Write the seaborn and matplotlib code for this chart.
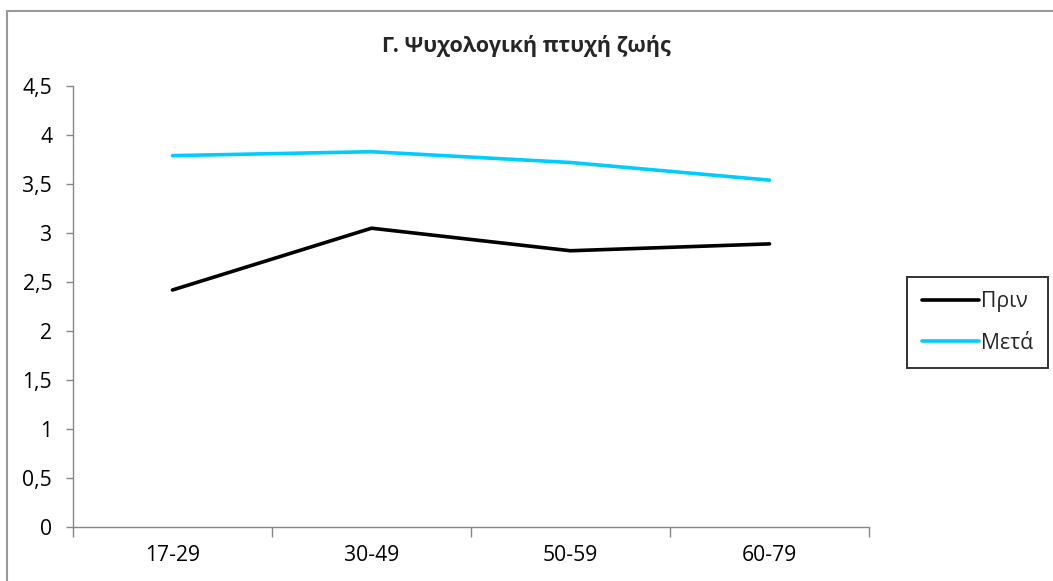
import matplotlib
matplotlib.use("Agg")
import matplotlib.pyplot as plt
from matplotlib.patches import Rectangle
from matplotlib.ticker import FixedLocator
import pandas as pd
import seaborn as sns

# Mean scores per age group, before and after
age_groups = ["17-29", "30-49", "50-59", "60-79"]
before = [2.42, 3.05, 2.82, 2.89]
after = [3.79, 3.83, 3.72, 3.54]
series_names = ["Πριν", "Μετά"]
y_ticks = [0, 0.5, 1, 1.5, 2, 2.5, 3, 3.5, 4, 4.5]
y_tick_labels = ["0", "0,5", "1", "1,5", "2", "2,5", "3", "3,5", "4", "4,5"]
title = "Γ. Ψυχολογική πτυχή ζωής"

df = pd.DataFrame({
    "group": age_groups * 2,
    "value": before + after,
    "series": [series_names[0]] * 4 + [series_names[1]] * 4,
})

sns.set_theme(style="white")
plt.rcParams["font.family"] = ["Open Sans", "DejaVu Sans"]

W, H = 1053, 581
fig = plt.figure(figsize=(W / 100, H / 100), dpi=100)
ax = fig.add_axes([73 / W, 1 - 527.3 / H, (869 - 73) / W, (527.3 - 86) / H])

sns.lineplot(
    data=df, x="group", y="value", hue="series",
    palette=["#000000", "#00CCFF"], linewidth=2.6, sort=False, ax=ax,
)

ax.set_xlim(-0.5, 3.5)
ax.set_ylim(0, 4.5)
ax.set_xlabel("")
ax.set_ylabel("")

ax.set_yticks(y_ticks)
ax.set_yticklabels(y_tick_labels)
ax.set_xticks(range(len(age_groups)))
ax.set_xticklabels(age_groups)
ax.xaxis.set_minor_locator(FixedLocator([-0.5, 0.5, 1.5, 2.5, 3.5]))

axis_grey = "#868686"
for side in ["top", "right"]:
    ax.spines[side].set_visible(False)
for side in ["left", "bottom"]:
    ax.spines[side].set_color(axis_grey)
    ax.spines[side].set_linewidth(1.0)

tick_size = 15.2
ax.tick_params(axis="y", which="major", direction="out", length=5, width=1,
               color=axis_grey, labelsize=tick_size, labelcolor="black", pad=10, left=True)
ax.tick_params(axis="x", which="major", length=0, labelsize=tick_size,
               labelcolor="black", pad=13)
ax.tick_params(axis="x", which="minor", direction="out", length=7, width=1,
               color=axis_grey, bottom=True)

fig.text(0.5, 1 - 46 / H, title, ha="center", va="center",
         fontsize=15.5, fontweight="bold")

leg = ax.legend(
    loc="center left", bbox_to_anchor=(907 / W, 1 - 322.5 / H),
    bbox_transform=fig.transFigure, frameon=True, fancybox=False,
    fontsize=tick_size, handlelength=2.7, handletextpad=0.1,
    borderpad=0.7, labelspacing=0.95, borderaxespad=0,
)
leg.get_frame().set_edgecolor("black")
leg.get_frame().set_linewidth(1.4)
for line in leg.get_lines():
    line.set_linewidth(2.6)

# Outer chart frame
fig.patches.append(Rectangle(
    (7 / W, -0.05), 1.1, 1 - 11 / H + 0.05, transform=fig.transFigure,
    fill=False, edgecolor="#999999", linewidth=1.5, figure=fig,
))

fig.savefig("out.png", dpi=100)
